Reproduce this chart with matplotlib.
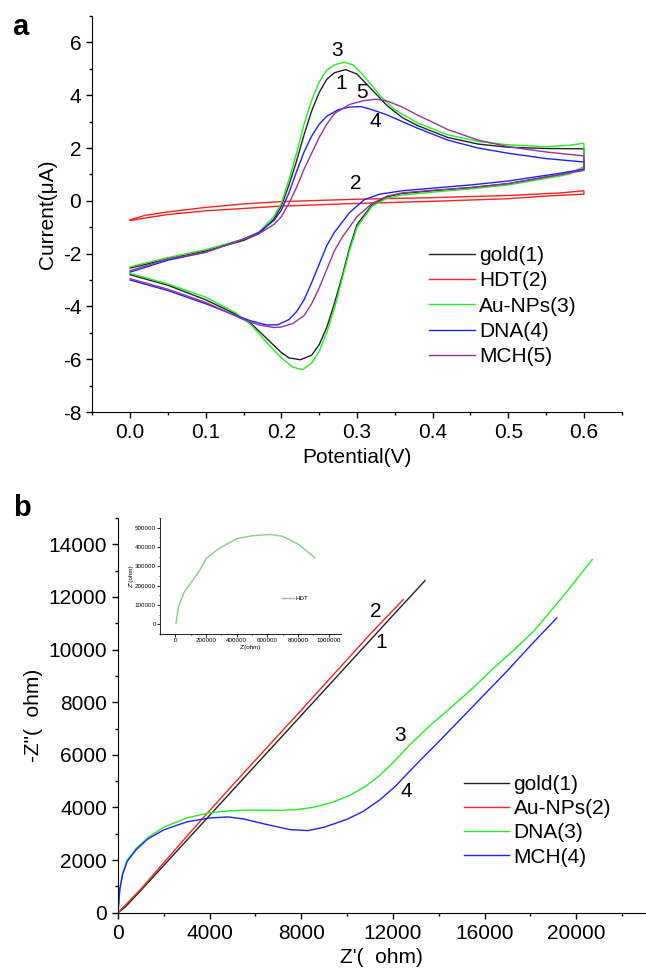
import matplotlib
matplotlib.use("Agg")
import matplotlib.pyplot as plt
from matplotlib.ticker import MultipleLocator, FormatStrFormatter

plt.rcParams['font.family'] = ['Liberation Sans', 'DejaVu Sans']
plt.rcParams['axes.unicode_minus'] = False

# ---- panel a : cyclic voltammograms (anodic branch then cathodic branch) ----
gold_x = [0.0, 0.05, 0.1, 0.15, 0.17, 0.19, 0.2, 0.21, 0.22, 0.23, 0.24, 0.25, 0.26, 0.27, 0.285, 0.30, 0.32, 0.34, 0.36, 0.38, 0.42, 0.46, 0.5, 0.55, 0.6,
          0.6, 0.57, 0.5, 0.45, 0.4, 0.36, 0.34, 0.32, 0.30, 0.29, 0.28, 0.27, 0.26, 0.25, 0.24, 0.225, 0.21, 0.2, 0.18, 0.16, 0.14, 0.1, 0.05, 0.0]
gold_y = [-2.55, -2.2, -1.9, -1.5, -1.25, -0.7, -0.2, 0.6, 1.5, 2.5, 3.4, 4.1, 4.6, 4.85, 4.97, 4.8, 4.2, 3.6, 3.15, 2.85, 2.4, 2.15, 2.03, 1.98, 1.97,
          1.2, 1.0, 0.65, 0.5, 0.38, 0.28, 0.15, -0.15, -0.9, -1.8, -2.9, -3.9, -4.8, -5.45, -5.85, -6.02, -5.95, -5.75, -5.2, -4.65, -4.3, -3.75, -3.2, -2.8]

hdt_x = [0.0, 0.02, 0.05, 0.1, 0.15, 0.2, 0.3, 0.4, 0.5, 0.57, 0.6,
         0.6, 0.55, 0.5, 0.4, 0.3, 0.2, 0.1, 0.05, 0.02, 0.0]
hdt_y = [-0.72, -0.55, -0.42, -0.25, -0.12, -0.03, 0.06, 0.12, 0.2, 0.3, 0.38,
         0.25, 0.18, 0.08, -0.02, -0.1, -0.2, -0.38, -0.52, -0.65, -0.75]

aunp_x = [0.0, 0.05, 0.1, 0.15, 0.17, 0.19, 0.2, 0.21, 0.22, 0.23, 0.24, 0.25, 0.26, 0.27, 0.283, 0.295, 0.31, 0.33, 0.35, 0.38, 0.42, 0.46, 0.5, 0.55, 0.58, 0.6,
          0.6, 0.58, 0.5, 0.45, 0.4, 0.36, 0.34, 0.32, 0.30, 0.29, 0.28, 0.27, 0.26, 0.25, 0.24, 0.228, 0.215, 0.2, 0.18, 0.16, 0.14, 0.1, 0.05, 0.0]
aunp_y = [-2.5, -2.15, -1.85, -1.45, -1.2, -0.6, -0.1, 0.8, 1.8, 2.9, 3.8, 4.5, 4.95, 5.15, 5.25, 5.15, 4.7, 4.0, 3.45, 2.95, 2.5, 2.25, 2.12, 2.05, 2.1, 2.18,
          1.3, 1.0, 0.6, 0.45, 0.33, 0.22, 0.1, -0.2, -1.0, -1.9, -3.0, -4.1, -5.0, -5.7, -6.15, -6.4, -6.3, -5.95, -5.35, -4.7, -4.25, -3.65, -3.15, -2.75]

dna_x = [0.0, 0.05, 0.1, 0.15, 0.17, 0.19, 0.2, 0.21, 0.22, 0.23, 0.24, 0.25, 0.26, 0.275, 0.29, 0.305, 0.32, 0.34, 0.36, 0.38, 0.42, 0.46, 0.5, 0.55, 0.6,
         0.6, 0.57, 0.5, 0.45, 0.4, 0.36, 0.33, 0.31, 0.29, 0.27, 0.26, 0.25, 0.24, 0.23, 0.22, 0.21, 0.195, 0.18, 0.16, 0.14, 0.1, 0.05, 0.0]
dna_y = [-2.7, -2.25, -1.95, -1.45, -1.2, -0.75, -0.35, 0.3, 1.1, 1.85, 2.45, 2.9, 3.2, 3.45, 3.55, 3.57, 3.45, 3.25, 3.0, 2.75, 2.3, 2.0, 1.8, 1.6, 1.47,
         1.2, 1.05, 0.75, 0.6, 0.48, 0.38, 0.25, 0.05, -0.45, -1.2, -1.7, -2.4, -3.1, -3.75, -4.2, -4.5, -4.7, -4.7, -4.55, -4.35, -3.9, -3.4, -3.0]

mch_x = [0.0, 0.05, 0.1, 0.15, 0.17, 0.19, 0.2, 0.21, 0.22, 0.23, 0.24, 0.25, 0.26, 0.27, 0.29, 0.31, 0.325, 0.34, 0.36, 0.38, 0.42, 0.46, 0.5, 0.55, 0.6,
         0.6, 0.57, 0.5, 0.45, 0.4, 0.36, 0.34, 0.32, 0.3, 0.28, 0.27, 0.26, 0.25, 0.24, 0.23, 0.215, 0.2, 0.19, 0.17, 0.15, 0.1, 0.05, 0.0]
mch_y = [-2.65, -2.2, -1.95, -1.45, -1.25, -0.9, -0.6, -0.1, 0.5, 1.2, 1.8, 2.4, 2.9, 3.3, 3.65, 3.8, 3.85, 3.78, 3.55, 3.25, 2.7, 2.3, 2.05, 1.85, 1.7,
         1.15, 1.0, 0.65, 0.5, 0.4, 0.3, 0.18, -0.1, -0.6, -1.4, -1.9, -2.6, -3.3, -3.9, -4.35, -4.65, -4.78, -4.8, -4.7, -4.5, -3.85, -3.35, -2.95]

cv_labels = ['gold(1)', 'HDT(2)', 'Au-NPs(3)', 'DNA(4)', 'MCH(5)']
cv_colors = ['#222222', '#ff2020', '#22ee22', '#2020ff', '#993399']

# ---- panel b : Nyquist plots ----
b_gold_x = [0, 300, 1000, 2000, 3000, 4000, 5000, 6000, 7000, 8000, 9000, 10000, 11000, 12000, 13400]
b_gold_y = [0, 200, 850, 1800, 2750, 3700, 4650, 5600, 6550, 7500, 8450, 9400, 10350, 11300, 12620]

b_aunp_x = [0, 1000, 2000, 3000, 4000, 5000, 6000, 7000, 8000, 9000, 10000, 11000, 12450]
b_aunp_y = [0, 900, 1900, 2900, 3880, 4850, 5800, 6750, 7700, 8660, 9620, 10580, 11900]

b_dna_x = [0, 80, 200, 400, 800, 1300, 2000, 3000, 4000, 5000, 6000, 7000, 7800, 8500, 9300, 10100, 10800, 11400, 12000,
           12700, 13600, 14600, 15500, 16400, 17300, 18200, 19400, 20700]
b_dna_y = [0, 900, 1500, 2000, 2450, 2850, 3250, 3600, 3800, 3880, 3900, 3890, 3920, 4000, 4180, 4450, 4800, 5200, 5700,
           6350, 7100, 7850, 8550, 9300, 10000, 10750, 12000, 13420]

b_mch_x = [0, 80, 200, 400, 800, 1300, 2000, 3000, 4000, 4800, 5500, 6500, 7500, 8300, 9000, 10000, 10700, 11400, 12100,
           12700, 13200, 14000, 15000, 16000, 17000, 18000, 19150]
b_mch_y = [0, 900, 1450, 1950, 2400, 2800, 3150, 3450, 3600, 3640, 3560, 3350, 3160, 3120, 3250, 3550, 3850, 4270, 4800,
           5350, 5800, 6500, 7400, 8300, 9200, 10150, 11200]

eis_labels = ['gold(1)', 'Au-NPs(2)', 'DNA(3)', 'MCH(4)']
eis_colors = ['#222222', '#ff2020', '#22ee22', '#2020ff']

# inset: HDT
hdt_zr = [4000, 20000, 60000, 120000, 160000, 200000, 280000, 400000, 500000, 620000, 700000, 800000, 910000]
hdt_zi = [5000, 90000, 170000, 235000, 280000, 340000, 390000, 443000, 458000, 465000, 455000, 415000, 345000]

W, H = 646, 977
fig = plt.figure(figsize=(W / 100, H / 100), dpi=100)


def style(ax, fs):
    ax.spines['top'].set_visible(False)
    ax.spines['right'].set_visible(False)
    ax.tick_params(which='major', direction='out', length=4.5, width=1, labelsize=fs)
    ax.tick_params(which='minor', direction='out', length=2.5, width=1)


# panel a
ax = fig.add_axes([92.3 / W, 1 - 412 / H, 529.4 / W, 396 / H])
for xs, ys, c, lab in zip([gold_x, hdt_x, aunp_x, dna_x, mch_x],
                          [gold_y, hdt_y, aunp_y, dna_y, mch_y], cv_colors, cv_labels):
    ax.plot(xs, ys, color=c, lw=1.0, label=lab)
ax.set_xlim(-0.05, 0.65)
ax.set_ylim(-8, 7)
ax.xaxis.set_minor_locator(MultipleLocator(0.05))
ax.yaxis.set_minor_locator(MultipleLocator(1))
ax.set_xticks([0, 0.1, 0.2, 0.3, 0.4, 0.5, 0.6])
ax.set_xticklabels(['0.0', '0.1', '0.2', '0.3', '0.4', '0.5', '0.6'])
ax.set_yticks(range(-8, 7, 2))
style(ax, 15)
ax.set_xlabel('Potential(V)', fontsize=15)
ax.set_ylabel('Current(μA)', fontsize=15)
for t, (x, y) in zip(['3', '1', '5', '4', '2'],
                     [(0.274, 5.7), (0.279, 4.45), (0.307, 4.1), (0.324, 3.0), (0.298, 0.65)]):
    ax.text(x, y, t, fontsize=15, ha='center', va='center')
ax.legend(loc='upper left', bbox_to_anchor=(0.62, 0.44), frameon=False, fontsize=15,
          handlelength=2.2, handletextpad=0.2, labelspacing=0.3, borderaxespad=0)
fig.text(20 / W, 1 - 27 / H, 'a', fontsize=21, fontweight='bold', ha='center', va='center')

# panel b
bx = fig.add_axes([118 / W, 1 - 912.7 / H, 527 / W, 394.7 / H])
for xs, ys, c, lab in zip([b_gold_x, b_aunp_x, b_dna_x, b_mch_x],
                          [b_gold_y, b_aunp_y, b_dna_y, b_mch_y], eis_colors, eis_labels):
    bx.plot(xs, ys, color=c, lw=1.0, label=lab)
bx.set_xlim(0, 23000)
bx.set_ylim(0, 15000)
bx.xaxis.set_major_locator(MultipleLocator(4000))
bx.xaxis.set_minor_locator(MultipleLocator(2000))
bx.yaxis.set_minor_locator(MultipleLocator(1000))
bx.set_yticks(range(0, 14001, 2000))
style(bx, 15)
bx.set_xlabel("Z'(  ohm)", fontsize=15)
bx.set_ylabel('-Z"(  ohm)', fontsize=15)
for t, (x, y) in zip(['2', '1', '3', '4'],
                     [(11240, 11450), (11500, 10250), (12300, 6750), (12600, 4600)]):
    bx.text(x, y, t, fontsize=15, ha='center', va='center')
bx.legend(loc='upper left', bbox_to_anchor=(0.64, 0.37), frameon=False, fontsize=15,
          handlelength=2.2, handletextpad=0.2, labelspacing=0.25, borderaxespad=0)
fig.text(22 / W, 1 - 508 / H, 'b', fontsize=21, fontweight='bold', ha='center', va='center')

# inset
ix = fig.add_axes([160 / W, 1 - 634 / H, 181 / W, 116 / H])
ix.plot(hdt_zr, hdt_zi, color='#88cc88', lw=1.0, label='HDT')
ix.set_xlim(-100000, 1080000)
ix.set_ylim(-50000, 550000)
ix.xaxis.set_minor_locator(MultipleLocator(100000))
ix.yaxis.set_minor_locator(MultipleLocator(50000))
ix.set_xticks(range(0, 1000001, 200000))
ix.set_yticks(range(0, 500001, 100000))
ix.xaxis.set_major_formatter(FormatStrFormatter('%d'))
ix.yaxis.set_major_formatter(FormatStrFormatter('%d'))
ix.spines['top'].set_visible(False)
ix.spines['right'].set_visible(False)
ix.tick_params(which='major', direction='out', length=2, width=0.6, labelsize=4.5, pad=1)
ix.tick_params(which='minor', direction='out', length=1, width=0.6)
for s in ix.spines.values():
    s.set_linewidth(0.6)
ix.set_xlabel("Z'(ohm)", fontsize=4.5, labelpad=1)
ix.set_ylabel("Z''(ohm)", fontsize=4.5, labelpad=1)
ix.patch.set_alpha(0)
ix.legend(loc='center left', bbox_to_anchor=(0.66, 0.31), frameon=False, fontsize=4.5,
          handlelength=2, handletextpad=0.2, borderaxespad=0)

fig.savefig('out.png', dpi=100)
